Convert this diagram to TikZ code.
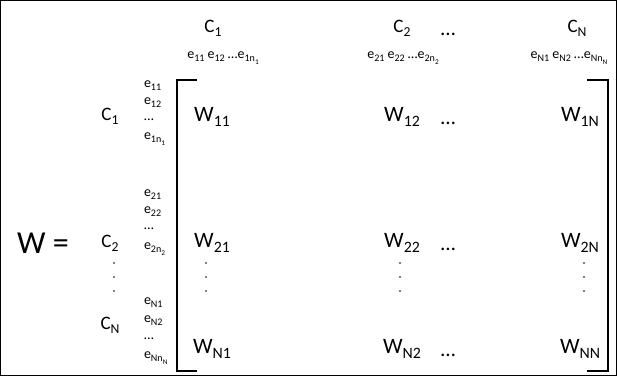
\documentclass[tikz,border=0pt]{standalone}
\usepackage{fontspec}
\setmainfont{Carlito}
\makeatletter
\newcommand{\sbx}[1]{\raisebox{-0.22em}{\fontsize{\fpeval{0.72*\f@size}}{0}\selectfont #1}}
\makeatother
\begin{document}
\begin{tikzpicture}[x=1pt,y=-1pt,
  every node/.style={inner sep=0pt, outer sep=0pt},
  bigW/.style={font=\fontsize{32}{32}\selectfont},
  clab/.style={font=\fontsize{19}{19}\selectfont},
  went/.style={font=\fontsize{22}{22}\selectfont},
  elab/.style={font=\fontsize{14}{14}\selectfont},
  erow/.style={font=\fontsize{14}{14}\selectfont, anchor=west},
  hdots/.style={font=\fontsize{21}{21}\selectfont, anchor=base},
  brk/.style={line width=1.6pt, line cap=rect},
  vdot/.style={fill=black, circle, minimum size=1.6pt}]
\useasboundingbox (0,0) rectangle (617,376);
\draw[line width=1pt] (0.5,0.5) rectangle (616.5,375.5);
% W =
\node[bigW] (weq) at (43,243) {W =};
% column headers
\node[clab] (tc1) at (213,28) {C\sbx{1}};
\node[clab] (tc2) at (402,28) {C\sbx{2}};
\node[hdots] (tcd) at (448,35) {…};
\node[clab] (tcn) at (577,28) {C\sbx{N}};
\node[elab] (te1) at (223,58) {e\sbx{11} e\sbx{12} …e\sbx{1n\sbx{1}}};
\node[elab] (te2) at (403,58) {e\sbx{21} e\sbx{22} …e\sbx{2n\sbx{2}}};
\node[elab] (ten) at (569,58) {e\sbx{N1} e\sbx{N2} …e\sbx{Nn\sbx{N}}};
% row labels
\node[clab] (rc1) at (110,116) {C\sbx{1}};
\node[clab] (rc2) at (110,243) {C\sbx{2}};
\node[clab] (rcn) at (110,325) {C\sbx{N}};
\node[vdot] (rd1) at (114,263) {};
\node[vdot] (rd2) at (114,277) {};
\node[vdot] (rd3) at (114,291) {};
% row e labels
\node[erow] (r11) at (144,86) {e\sbx{11}};
\node[erow] (r12) at (144,103) {e\sbx{12}};
\node[erow] (r1d) at (144,120) {…};
\node[erow] (r1n) at (144,139) {e\sbx{1n\sbx{1}}};
\node[erow] (r21) at (144,195) {e\sbx{21}};
\node[erow] (r22) at (144,212) {e\sbx{22}};
\node[erow] (r2d) at (144,229) {…};
\node[erow] (r2n) at (144,249) {e\sbx{2n\sbx{2}}};
\node[erow] (rn1) at (144,303) {e\sbx{N1}};
\node[erow] (rn2) at (144,321) {e\sbx{N2}};
\node[erow] (rnd) at (144,339) {…};
\node[erow] (rnn) at (144,358) {e\sbx{Nn\sbx{N}}};
% brackets
\coordinate (lbt) at (196,80);
\coordinate (lbb) at (196,371);
\coordinate (rbt) at (588,80);
\coordinate (rbb) at (588,371);
\draw[brk] (lbt) -- (177,80) -- (177,371) -- (lbb);
\draw[brk] (rbt) -- (608,80) -- (608,371) -- (rbb);
% entries
\node[went] (w11) at (212,117) {W\sbx{11}};
\node[went] (w12) at (402,117) {W\sbx{12}};
\node[hdots] (w1d) at (448,124) {…};
\node[went] (w1n) at (580,117) {W\sbx{1N}};
\node[went] (w21) at (212,243) {W\sbx{21}};
\node[went] (w22) at (402,243) {W\sbx{22}};
\node[hdots] (w2d) at (448,250) {…};
\node[went] (w2n) at (580,243) {W\sbx{2N}};
\node[went] (wn1) at (212,349) {W\sbx{N1}};
\node[went] (wn2) at (402,349) {W\sbx{N2}};
\node[hdots] (wnd) at (448,356) {…};
\node[went] (wnn) at (580,349) {W\sbx{NN}};
% column vertical dots
\foreach \x/\n in {206/a,400/b,584/c}{
  \node[vdot] (cd\n1) at (\x,263) {};
  \node[vdot] (cd\n2) at (\x,277) {};
  \node[vdot] (cd\n3) at (\x,291) {};
}
\end{tikzpicture}
\end{document}
